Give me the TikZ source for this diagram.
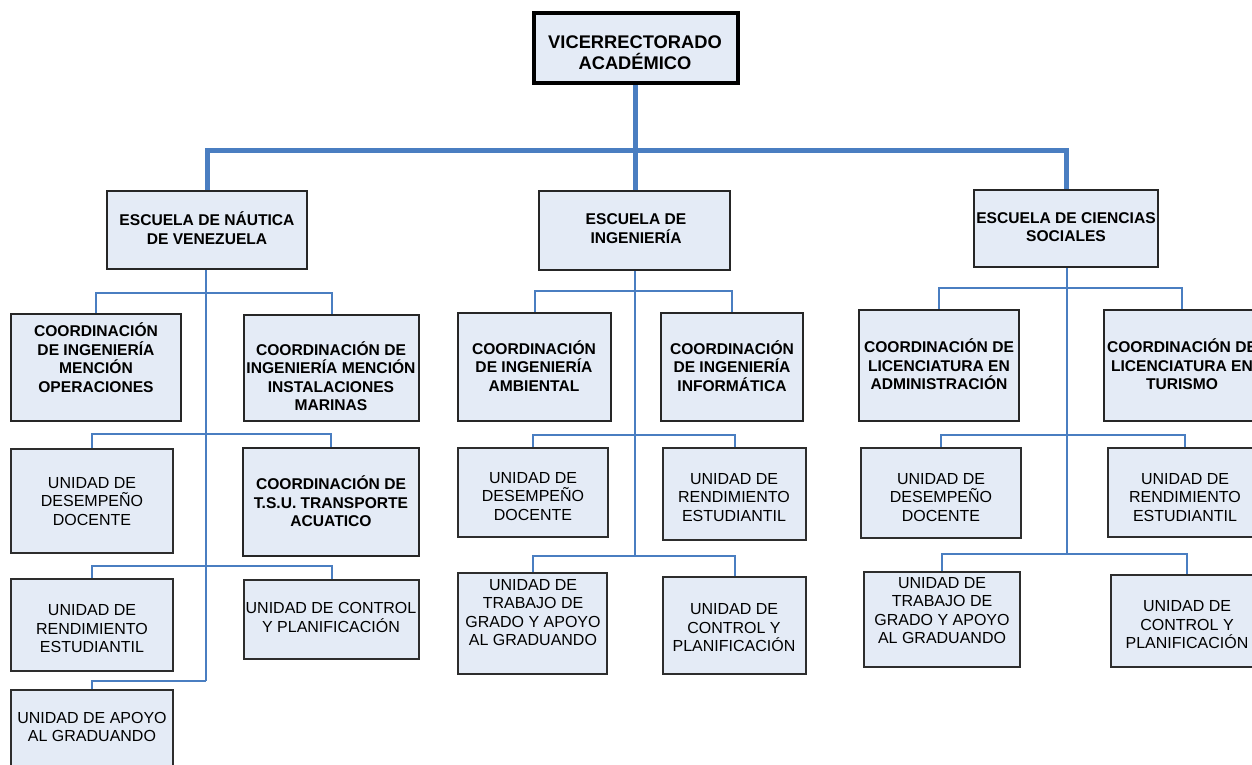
\documentclass[tikz,border=0pt]{standalone}
\usepackage{fontspec}
\setmainfont{Liberation Sans}
\usetikzlibrary{backgrounds}
\definecolor{boxfill}{RGB}{228,235,246}
\definecolor{lineblue}{RGB}{74,126,193}
\definecolor{unitedge}{RGB}{45,45,45}
\tikzset{
 basebox/.style={draw, fill=boxfill, inner sep=0pt, outer sep=0pt, rectangle},
 chief/.style={basebox, line width=4.5pt, draw=black},
 school/.style={basebox, line width=1.8pt, draw=black!85},
 coordbox/.style={basebox, line width=1.8pt, draw=black!85},
 tsubox/.style={basebox, line width=2.4pt, draw=black!85},
 unit/.style={basebox, line width=1.2pt, draw=unitedge},
 bt/.style={align=center, inner sep=0pt, font=\fontsize{15.6}{18.5}\selectfont\bfseries},
 topt/.style={align=center, inner sep=0pt, font=\fontsize{18.3}{21}\selectfont\bfseries},
 rt/.style={align=center, inner sep=0pt, font=\fontsize{16}{18.5}\selectfont},
 mainline/.style={draw=lineblue, line width=5pt},
 conn/.style={draw=lineblue, line width=2pt},
}
\newcommand\obox[6]{\node[#1, minimum width={#5pt-#3pt}, minimum height={#6pt-#4pt}] (#2) at ({(#3+#5)/2},{(#4+#6)/2}) {};}
\begin{document}
\begin{tikzpicture}[x=1pt,y=-1pt]
\useasboundingbox (0,0) rectangle (1252,765);
\clip (0,0) rectangle (1252,765);

% top
\obox{chief}{vr}{534}{13}{738}{83}
\node[topt] (vrt) at (635,53) {VICERRECTORADO\\ACADÉMICO};

% schools
\obox{school}{nau}{107}{191}{307}{269}
\node[bt] (naut) at (207,228) {ESCUELA DE NÁUTICA\\DE VENEZUELA};
\obox{school}{ing}{539}{191}{730}{270}
\node[bt] (ingt) at (636,228.5) {ESCUELA DE\\INGENIERÍA};
\obox{school}{ccs}{974}{190}{1158}{267}
\node[bt] (ccst) at (1066,227) {ESCUELA DE CIENCIAS\\SOCIALES};

% Nautica subtree
\obox{coordbox}{op}{11}{314}{181}{421}
\node[bt] (opt) at (96,357.5) {COORDINACIÓN\\DE INGENIERÍA\\MENCIÓN\\OPERACIONES};
\obox{coordbox}{im}{244}{315}{419}{421}
\node[bt] (imt) at (331,376) {COORDINACIÓN DE\\INGENIERÍA MENCIÓN\\INSTALACIONES\\MARINAS};
\obox{unit}{udda}{11}{449}{173}{553}
\node[rt] (uddat) at (92,501.5) {UNIDAD DE\\DESEMPEÑO\\DOCENTE};
\obox{tsubox}{tsu}{243}{448}{419}{556}
\node[bt] (tsut) at (331,501.5) {COORDINACIÓN DE\\T.S.U. TRANSPORTE\\ACUATICO};
\obox{unit}{urea}{11}{579}{173}{671}
\node[rt] (ureat) at (92,629) {UNIDAD DE\\RENDIMIENTO\\ESTUDIANTIL};
\obox{unit}{ucpa}{244}{580}{419}{659}
\node[rt] (ucpat) at (331,617.5) {UNIDAD DE CONTROL\\Y PLANIFICACIÓN};
\obox{unit}{uaga}{11}{690}{173}{790}
\node[rt] (uagat) at (92,727) {UNIDAD DE APOYO\\AL GRADUANDO};

% Ingenieria subtree
\obox{coordbox}{amb}{458}{313}{611}{421}
\node[bt] (ambt) at (534,366) {COORDINACIÓN\\DE INGENIERÍA\\AMBIENTAL};
\obox{coordbox}{inf}{661}{313}{803}{421}
\node[bt] (inft) at (732,366) {COORDINACIÓN\\DE INGENIERÍA\\INFORMÁTICA};
\obox{unit}{uddb}{458}{448}{608}{537}
\node[rt] (uddbt) at (533,496.5) {UNIDAD DE\\DESEMPEÑO\\DOCENTE};
\obox{unit}{ureb}{663}{448}{806}{540}
\node[rt] (urebt) at (734,497.5) {UNIDAD DE\\RENDIMIENTO\\ESTUDIANTIL};
\obox{unit}{utgb}{458}{573}{607}{674}
\node[rt] (utgbt) at (533,612.5) {UNIDAD DE\\TRABAJO DE\\GRADO Y APOYO\\AL GRADUANDO};
\obox{unit}{ucpb}{663}{577}{806}{674}
\node[rt] (ucpbt) at (734,628) {UNIDAD DE\\CONTROL Y\\PLANIFICACIÓN};

% Ciencias Sociales subtree
\obox{coordbox}{adm}{859}{310}{1019}{421}
\node[bt] (admt) at (939,364.5) {COORDINACIÓN DE\\LICENCIATURA EN\\ADMINISTRACIÓN};
\obox{coordbox}{tur}{1104}{310}{1260}{421}
\node[bt] (turt) at (1182,364.5) {COORDINACIÓN DE\\LICENCIATURA EN\\TURISMO};
\obox{unit}{uddc}{861}{448}{1021}{538}
\node[rt] (uddct) at (941,497.5) {UNIDAD DE\\DESEMPEÑO\\DOCENTE};
\obox{unit}{urec}{1108}{448}{1262}{537}
\node[rt] (urect) at (1185,497.5) {UNIDAD DE\\RENDIMIENTO\\ESTUDIANTIL};
\obox{unit}{utgc}{864}{572}{1020}{667}
\node[rt] (utgct) at (942,610.5) {UNIDAD DE\\TRABAJO DE\\GRADO Y APOYO\\AL GRADUANDO};
\obox{unit}{ucpc}{1111}{575}{1263}{667}
\node[rt] (ucpct) at (1187,625) {UNIDAD DE\\CONTROL Y\\PLANIFICACIÓN};

% junction coordinates
\coordinate (m) at (635,150);
\coordinate (n1) at (206,293);
\coordinate (n2) at (206,434);
\coordinate (n3) at (206,566);
\coordinate (n4) at (206,681);
\coordinate (g1) at (635,291);
\coordinate (g2) at (635,435);
\coordinate (g3) at (635,556);
\coordinate (c1) at (1067,288);
\coordinate (c2) at (1067,435);
\coordinate (c3) at (1067,554);

\begin{scope}[on background layer]
\fill[white] (0,0) rectangle (1252,765);
\draw[mainline] (m |- vr.south) -- (m);
\draw[mainline] (nau.north) |- (m) -| (ccs.north);
\draw[mainline] (m) -- (m |- ing.north);

\draw[conn] (n1 |- nau.south) -- (n4);
\draw[conn] (op.north) |- (n1) -| (im.north);
\draw[conn] (udda.north) |- (n2) -| (tsu.north);
\draw[conn] (urea.north) |- (n3) -| (ucpa.north);
\draw[conn] (uaga.north) |- (n4);

\draw[conn] (g1 |- ing.south) -- (g3);
\draw[conn] (amb.north) |- (g1) -| (inf.north);
\draw[conn] (uddb.north) |- (g2) -| (ureb.north);
\draw[conn] (utgb.north) |- (g3) -| (ucpb.north);

\draw[conn] (c1 |- ccs.south) -- (c3);
\draw[conn] (adm.north) |- (c1) -| (tur.north);
\draw[conn] (uddc.north) |- (c2) -| (urec.north);
\draw[conn] (utgc.north) |- (c3) -| (ucpc.north);
\end{scope}
\end{tikzpicture}
\end{document}
